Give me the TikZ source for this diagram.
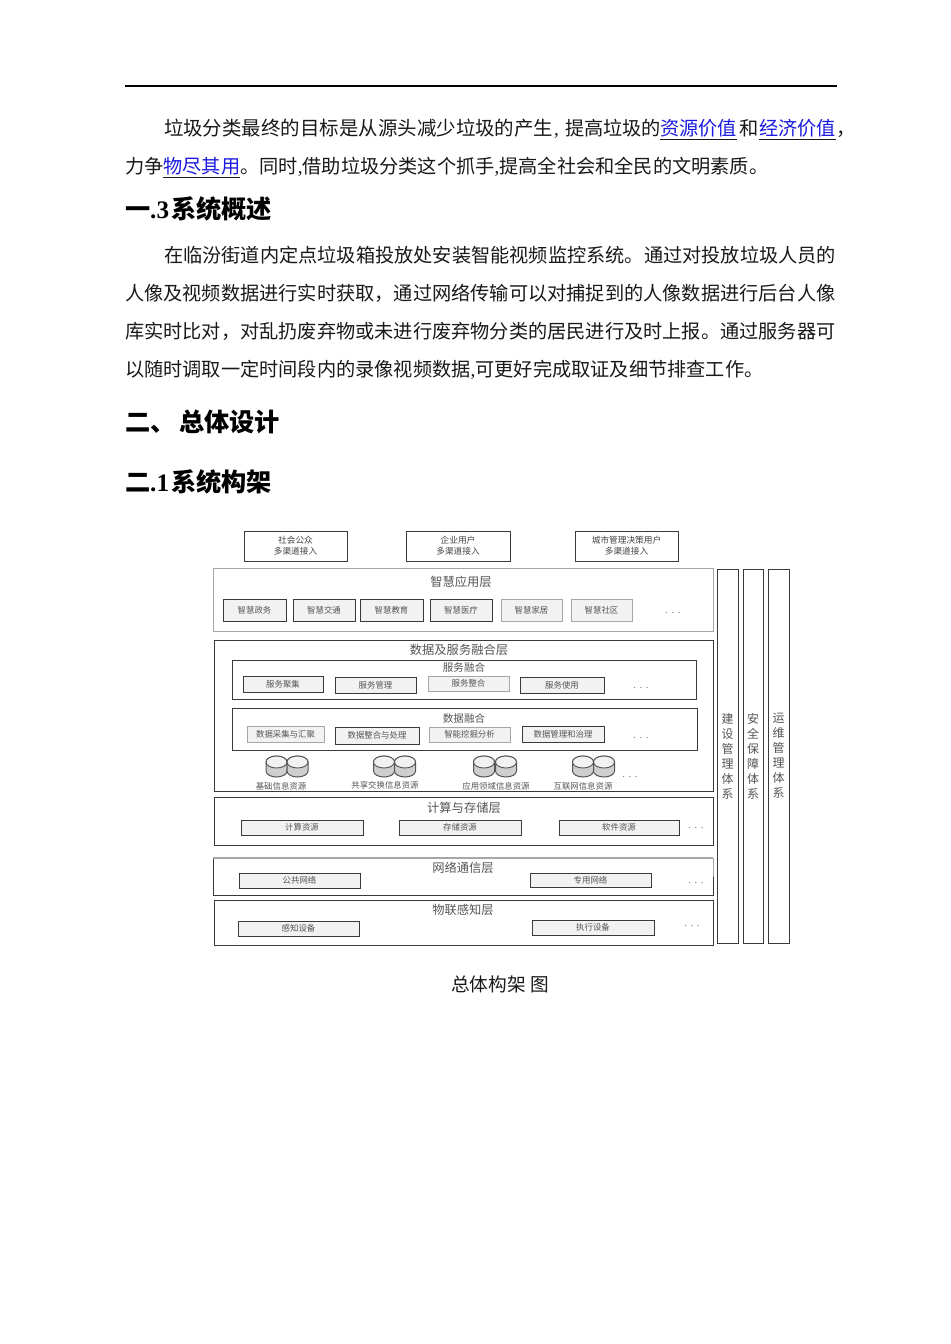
\documentclass[tikz,border=0pt]{standalone}
\usepackage{fontspec}
\setmainfont{Noto Sans CJK SC}
\newfontfamily\lat{Liberation Serif}
\definecolor{linkc}{HTML}{1A1AE0}
\definecolor{subfill}{HTML}{F2F2F2}
\definecolor{subtxt}{HTML}{555555}
\definecolor{frameD}{HTML}{3A3A3A}
\definecolor{frameL}{HTML}{A6A6A6}
\newcommand\bodyf{\fontsize{14.4}{16}\selectfont}
\newcommand\headf{\fontsize{18.9}{20}\selectfont\bfseries}
\newcommand\lnk[1]{\underline{\textcolor{linkc}{#1}}}
\newcommand\cmm{{\lat,}}
\newcommand\bx[7]{\pgfmathsetmacro\bw{(#4-#2)*0.75}\pgfmathsetmacro\bh{(#5-#3)*0.75}\node[#6,minimum width=\bw pt,minimum height=\bh pt] (#1) at ({(#2+#4)/2},{(#3+#5)/2}) {#7};}
\newcommand\dbc[3]{%
 \path[draw=subtxt,line width=0.75pt,fill=subfill!85!black] (#2-10.5,#3-9) -- (#2-10.5,#3) arc[start angle=180,end angle=0,x radius=10.5,y radius=6] -- (#2+10.5,#3-9) arc[start angle=0,end angle=-180,x radius=10.5,y radius=6];
 \path[draw=subtxt,line width=0.7pt,fill=white!95!black] (#2,#3-9) ellipse[x radius=10.5,y radius=6];
 \coordinate (#1) at (#2,#3);}
\tikzset{
 x=0.75pt,y=-0.75pt,
 every node/.style={inner sep=0pt,outer sep=0pt},
 bodyline/.style={anchor=west,font=\bodyf,text=black!90,text height=14.25pt,text depth=3pt},
 headline/.style={anchor=west,font=\headf,text=black},
 topbox/.style={draw=frameD,line width=0.6pt,fill=white,align=center,font=\fontsize{6.5}{8.2}\selectfont,text=subtxt!80!black},
 layerD/.style={draw=frameD,line width=0.65pt,fill=white},
 layerL/.style={draw=frameL,line width=0.65pt,fill=white},
 group/.style={draw=frameD,line width=0.6pt,fill=white},
 subbox/.style={draw=frameD,line width=0.55pt,fill=subfill,font=\fontsize{6.3}{8}\selectfont,text=subtxt},
 subboxL/.style={draw=frameL,line width=0.55pt,fill=subfill,font=\fontsize{6.3}{8}\selectfont,text=subtxt},
 ltitle/.style={font=\fontsize{9.2}{11}\selectfont,text=subtxt},
 gtitle/.style={font=\fontsize{7.9}{10}\selectfont,text=subtxt},
 dots/.style={font=\lat\fontsize{8}{8}\selectfont,text=subtxt!80},
 dblabel/.style={font=\fontsize{6.3}{8}\selectfont,text=subtxt},
 column/.style={draw=frameD,line width=0.6pt,fill=white},
 coltext/.style={align=center,font=\fontsize{9}{11.25}\selectfont,text=subtxt},
}
\begin{document}
\begin{tikzpicture}
\useasboundingbox[fill=white] (0,0) rectangle (950,1344);
\draw[line width=1pt,black] (125,86) coordinate (ruleL) -- (837,86) coordinate (ruleR);
% text
\node[bodyline,font=\fontsize{14.6}{16}\selectfont] (p1a) at (164,128) {垃圾分类最终的目标是从源头减少垃圾的产生};
\node[bodyline] (p1c) at (554,128) {\cmm};
\node[bodyline] (p1b) at (565,128) {提高垃圾的};
\node[bodyline] (p1l) at (660,128) {\lnk{资源价值}};
\node[bodyline] (p1h) at (739,128) {和};
\node[bodyline] (p1m) at (759,128) {\lnk{经济价值}};
\node[bodyline] (p1e) at (836,128) {，};
\node[bodyline] (p2) at (125,166) {力争\lnk{物尽其用}。同时\cmm 借助垃圾分类这个抓手\cmm 提高全社会和全民的文明素质。};
\node[headline] (h1) at (125,209) {一{\lat.3}\hspace{1.5pt}系统概述};
\node[bodyline] (p3) at (164,255) {在临汾街道内定点垃圾箱投放处安装智能视频监控系统。通过对投放垃圾人员的};
\node[bodyline] (p4) at (125,293) {人像及视频数据进行实时获取，通过网络传输可以对捕捉到的人像数据进行后台人像};
\node[bodyline] (p5) at (125,331) {库实时比对，对乱扔废弃物或未进行废弃物分类的居民进行及时上报。通过服务器可};
\node[bodyline] (p6) at (125,369) {以随时调取一定时间段内的录像视频数据\cmm 可更好完成取证及细节排查工作。};
\node[headline] (h2) at (125,422) {二、\hspace{-1.5pt} 总体设计};
\node[headline] (h3) at (125,482) {二{\lat.1}\hspace{1.5pt}系统构架};
% top
\bx{u1}{244}{531}{347}{561}{topbox}{社会公众\\多渠道接入}
\bx{u2}{406}{531}{510}{561}{topbox}{企业用户\\多渠道接入}
\bx{u3}{575}{531}{678}{561}{topbox}{城市管理决策用户\\多渠道接入}
% app layer
\bx{L1}{213}{568}{713}{631}{layerL}{}
\node[ltitle] (L1t) at (461,582) {智慧应用层};
\bx{a1}{223}{599}{286}{621}{subbox}{智慧政务}
\bx{a2}{293}{599}{355}{621}{subbox}{智慧交通}
\bx{a3}{360}{599}{423}{621}{subbox}{智慧教育}
\bx{a4}{430}{599}{492}{621}{subbox}{智慧医疗}
\bx{a5}{501}{599}{562}{621}{subboxL}{智慧家居}
\bx{a6}{571}{599}{632}{621}{subboxL}{智慧社区}
\node[dots] (a7) at (673,613) {. . .};
% data layer
\bx{L2}{214}{640}{713}{791}{layerD}{}
\node[ltitle] (L2t) at (459,650) {数据及服务融合层};
\bx{G1}{232}{660}{696}{699}{group}{}
\node[gtitle] (G1t) at (464,667) {服务融合};
\bx{s1}{243}{676}{323}{692}{subbox}{服务聚集}
\bx{s2}{335}{677}{416}{693}{subbox}{服务管理}
\bx{s3}{428}{676}{509}{691}{subboxL}{服务整合}
\bx{s4}{520}{677}{604}{693}{subbox}{服务使用}
\node[dots] (s5) at (641,688) {. . .};
\bx{G2}{232}{708}{697}{750}{group}{}
\node[gtitle] (G2t) at (464,718) {数据融合};
\bx{d1}{247}{726}{324}{742}{subboxL}{数据采集与汇聚}
\bx{d2}{335}{727}{419}{744}{subbox}{数据整合与处理}
\bx{d3}{429}{727}{510}{742}{subboxL}{智能挖掘分析}
\bx{d4}{522}{726}{604}{742}{subbox}{数据管理和治理}
\node[dots] (d5) at (641,738) {. . .};
\dbc{c1a}{276.5}{771}\dbc{c1b}{297.5}{771}
\dbc{c2a}{384}{771}\dbc{c2b}{405}{771}
\dbc{c3a}{484}{771}\dbc{c3b}{506}{771}
\dbc{c4a}{583}{771}\dbc{c4b}{604}{771}
\node[dblabel] (r1) at (281,786) {基础信息资源};
\node[dblabel] (r2) at (385,785) {共享交换信息资源};
\node[dblabel] (r3) at (496,786) {应用领域信息资源};
\node[dblabel] (r4) at (583,786) {互联网信息资源};
\node[dots] (r5) at (630,777) {. . .};
% compute
\bx{L3}{214}{797}{713}{845}{layerD}{}
\node[ltitle] (L3t) at (464,808) {计算与存储层};
\bx{k1}{241}{820}{363}{835}{subbox}{计算资源}
\bx{k2}{399}{820}{521}{835}{subbox}{存储资源}
\bx{k3}{559}{820}{679}{835}{subbox}{软件资源}
\node[dots] (k4) at (696,828) {. . .};
% network
\bx{L4}{213}{858}{713}{895}{layerD}{}
\draw[frameL,line width=0.85pt] (L4.north west) -- (L4.north east);
\draw[frameL,line width=0.65pt] (L4.north east) -- (L4.east);
\node[ltitle] (L4t) at (463,868) {网络通信层};
\bx{n1}{239}{873}{360}{888}{subbox}{公共网络}
\bx{n2}{530}{873}{651}{887}{subbox}{专用网络}
\node[dots] (n3) at (696,883) {. . .};
% iot
\bx{L5}{214}{900}{713}{945}{layerD}{}
\node[ltitle] (L5t) at (463,910) {物联感知层};
\bx{t1}{238}{921}{359}{936}{subbox}{感知设备}
\bx{t2}{532}{920}{654}{935}{subbox}{执行设备}
\node[dots] (t3) at (692,926) {. . .};
% columns
\bx{C1}{717}{569}{738}{943}{column}{}
\bx{C2}{743}{569}{763}{943}{column}{}
\bx{C3}{768}{569}{789}{943}{column}{}
\node[coltext] (C1t) at (727.5,756) {建\\设\\管\\理\\体\\系};
\node[coltext] (C2t) at (753,756) {安\\全\\保\\障\\体\\系};
\node[coltext] (C3t) at (778.5,756) {运\\维\\管\\理\\体\\系};
\node[font=\fontsize{14}{16}\selectfont,text=black!90] (cap) at (500,984) {总体构架 图};
\end{tikzpicture}
\end{document}
